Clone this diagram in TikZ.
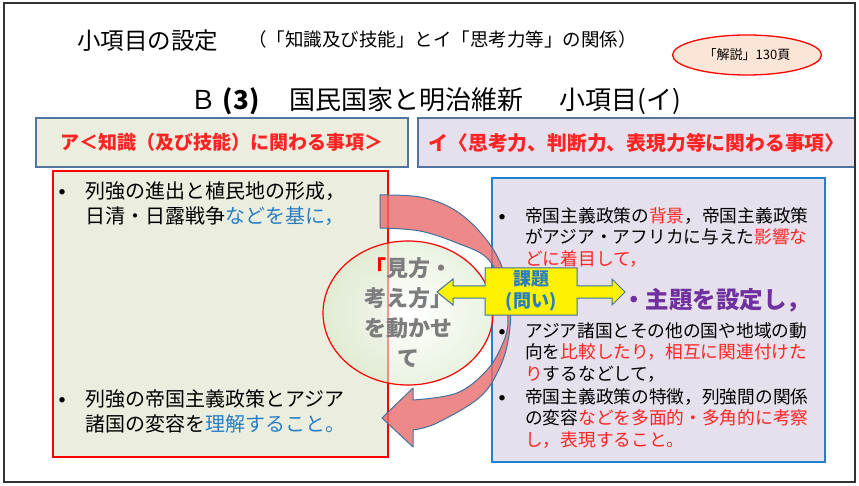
\documentclass[tikz,border=0pt]{standalone}
\usepackage{fontspec}
\setmainfont{Noto Sans CJK JP}
\usetikzlibrary{shapes.geometric, positioning}
\definecolor{frameline}{RGB}{50,50,50}
\definecolor{headline}{RGB}{84,116,160}
\definecolor{kgreen}{RGB}{235,238,223}
\definecolor{tlilac}{RGB}{229,224,236}
\definecolor{kblue}{RGB}{40,125,196}
\definecolor{tred}{RGB}{255,35,35}
\definecolor{tpurple}{RGB}{112,48,160}
\definecolor{arrowred}{RGB}{234,108,108}
\definecolor{arrowline}{RGB}{65,113,156}
\definecolor{boxblue}{RGB}{36,128,206}
\definecolor{notefill}{RGB}{251,229,214}
\definecolor{lensgreen}{RGB}{218,234,204}
\definecolor{lensgray}{RGB}{125,125,125}
\tikzset{
    hdbox/.style={draw=headline, line width=1.5pt, minimum height=49, inner sep=0pt,
        font=\bfseries\fontsize{19}{19}\selectfont, text=tred},
    itembox/.style={line width=2.2pt, minimum height=286, inner sep=0pt},
    kfont/.style={font=\fontsize{20}{25}\selectfont, align=left, inner sep=0pt, anchor=north west},
    tfont/.style={font=\fontsize{17.7}{21.8}\selectfont, align=left, inner sep=0pt, anchor=north west},
    dotmark/.style={font=\fontsize{6}{6}\selectfont, inner sep=0pt},
    lens/.style={ellipse, draw=red, line width=1.2pt, minimum width=170, minimum height=144,
        inner color=white, outer color=lensgreen, fill opacity=0.6, text opacity=1},
    task/.style={draw=arrowline, line width=1pt, fill=yellow}
}

\begin{document}
\begin{tikzpicture}[x=1pt, y=-1pt]
  \useasboundingbox (0,0) rectangle (859,486);
  % titles
  \node[font=\fontsize{23.5}{23.5}\selectfont, anchor=west, inner sep=0pt] (title) at (77,41) {小項目の設定};
  \node[font=\fontsize{18.5}{18.5}\selectfont, anchor=west, inner sep=0pt] (relation) at (248,39)
        {（「知識及び技能」とイ「思考力等」の関係）};
  \node[ellipse, draw=red, line width=1.3pt, fill=notefill, minimum width=149, minimum height=40,
        font=\fontsize{13}{13}\selectfont] (page) at (747,55) {「解説」130頁};
  \node[font=\fontsize{26}{26}\selectfont, inner sep=0pt] (unit) at (436,101)
        {Ｂ \textbf{(3)}\hspace{30pt}国民国家と明治維新\hspace{36pt}小項目(イ)};
  % header boxes
  \node[hdbox, fill=kgreen, minimum width=372] (know) at (222,142.5)
        {ア＜知識（及び技能）に関わる事項＞};
  \node[hdbox, fill=tlilac, minimum width=437, font=\bfseries\fontsize{19.8}{19.8}\selectfont] (think)
        at (636.5,142.5) {イ〈思考力、判断力、表現力等に関わる事項〉};
  % content boxes
  \node[itembox, draw=red, fill=kgreen, minimum width=335] (kitems) at (220.5,314) {};
  \node[itembox, draw=boxblue, fill=tlilac, minimum width=333, minimum height=284] (titems) at (658.5,320) {};
  % left items
  \node[dotmark] (kd1) at (62,192) {●};
  \node[kfont] (k1) at (85,181) {列強の進出と植民地の形成，\\日清・日露戦争\textcolor{kblue}{などを基に，}};
  \node[dotmark] (kd2) at (62,400) {●};
  \node[kfont] (k2) at (85,389) {列強の帝国主義政策とアジア\\諸国の変容を\textcolor{kblue}{理解すること。}};
  % right items
  \node[dotmark] (td1) at (502,217) {●};
  \node[tfont] (t1) at (525,207)
        {帝国主義政策の\textcolor{tred}{背景}，帝国主義政策\\がアジア・アフリカに与えた\textcolor{tred}{影響な}\\\textcolor{tred}{どに着目して，}};
  \node[font=\bfseries\fontsize{23.5}{23.5}\selectfont, text=tpurple, anchor=west, inner sep=0pt] (theme)
        at (622,300) {・主題を設定し，};
  \node[dotmark] (td2) at (502,332) {●};
  \node[tfont] (t2) at (525,322)
        {アジア諸国とその他の国や地域の動\\向を\textcolor{tred}{比較したり，相互に関連付けた}\\\textcolor{tred}{り}するなどして，};
  \node[dotmark] (td3) at (502,398) {●};
  \node[tfont] (t3) at (525,388)
        {帝国主義政策の特徴，列強間の関係\\の変容\textcolor{tred}{などを多面的・多角的に考察}\\\textcolor{tred}{し，表現すること。}};
  % circular arrow
  \draw[draw=arrowline, line width=1pt, fill=arrowred, fill opacity=0.8, line join=round]
    plot[smooth, tension=0.6] coordinates {(380,195) (420,197) (453,209) (480,232) (500,262) (510,300)
        (509,335) (500,367) (480,397) (437,423) (413,430)}
    -- (413,447) -- (382,418) -- (413,388) --
    plot[smooth, tension=0.6] coordinates {(413,400) (457,393) (487,370) (503,343) (508,320) (503,288)
        (487,258) (457,243) (420,231) (380,228)}
    -- cycle;
  % lens
  \node[lens, shade] (view) at (408,313) {};
  \node[font=\bfseries\fontsize{22}{30}\selectfont, text=lensgray, align=center] (viewtext) at (view)
        {\textcolor{red}{「}見方・\\考え方」\\を動かせ\\て};
  % task arrow
  \draw[task] (437,292) -- (453,279) -- (453,286) -- (485,286) -- (485,268) -- (577,268) -- (577,286)
        -- (612,286) -- (612,279) -- (625,292) -- (612,305) -- (612,298) -- (577,298) -- (577,315)
        -- (485,315) -- (485,298) -- (453,298) -- (453,305) -- cycle;
  \node[font=\bfseries\fontsize{18}{22}\selectfont, text=kblue, align=center] (task) at (531,291)
        {課題\\(問い)};
  % frame
  \draw[frameline, line width=1.8pt] (4,3) rectangle (855,482);
\end{tikzpicture}
\end{document}
